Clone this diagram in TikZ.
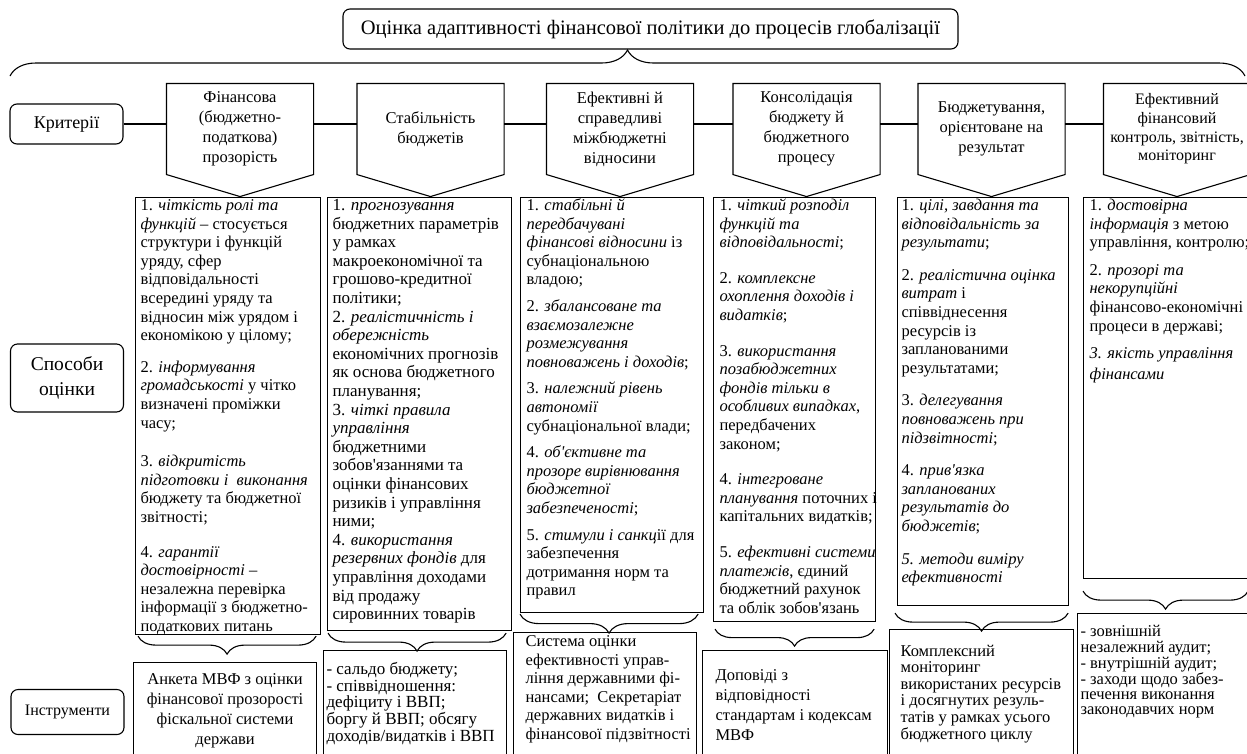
\documentclass[tikz,border=0pt]{standalone}
\usepackage{fontspec}
\setmainfont{Liberation Serif}
\usetikzlibrary{decorations.pathreplacing}

% box text: width, height, left inset, top pad, lines
\newcommand{\boxtext}[5]{\parbox[t][#2pt][t]{#1pt}{\vspace*{#4pt}\hspace*{#3pt}\begin{tabular}[t]{@{}l@{}}#5\end{tabular}}}
% centred box text: width, height, top pad, lines
\newcommand{\boxtextc}[4]{\parbox[t][#2pt][t]{#1pt}{\vspace*{#3pt}\centering\begin{tabular}[t]{@{}c@{}}#4\end{tabular}}}
\newcommand{\ap}{\textquotesingle}

\tikzset{
  every picture/.style={line width=1.1pt},
  lab/.style={draw, rounded corners=7pt, minimum width=113pt, align=center, inner sep=0pt},
  crit/.style={minimum width=146pt, minimum height=90pt, align=center, inner sep=0pt, font=\fontsize{16.5}{20}\selectfont},
  mbox/.style={draw, anchor=north west, inner sep=0pt, font=\fontsize{16.5}{18.6}\selectfont},
  tbox/.style={draw, anchor=north west, inner sep=0pt},
  brc/.style={decorate, decoration={brace, mirror, amplitude=#1}},
}

\begin{document}
\begin{tikzpicture}[x=1pt,y=-1pt]
		\useasboundingbox (0,0) rectangle (1247,753);
		\clip (0,0) rectangle (1247,753);

		% title and its brace
		\node[lab, minimum width=615pt, minimum height=40pt, font=\fontsize{20.5}{22}\selectfont] (title) at (650.5,29) {Оцінка адаптивності фінансової політики до процесів глобалізації};
		\coordinate (bl) at (10,76);
		\coordinate (br) at (1245,76);
		\draw[decorate, decoration={brace, amplitude=26pt}] (bl) -- (br);

		% row labels
		\node[lab, minimum height=40pt, font=\fontsize{18}{22}\selectfont] (krit) at (66.5,124) {Критерії};
		\node[lab, minimum height=68pt, font=\fontsize{19.5}{25}\selectfont] (sposoby) at (67,378) {Способи\\оцінки};
		\node[lab, minimum height=45pt, font=\fontsize{16}{19}\selectfont] (instr) at (67.5,712) {Інструменти};

		% criteria
		\node[crit] (c1) at (240,129) {Фінансова\\(бюджетно-\\податкова)\\прозорість};
		\node[crit] (c2) at (430.5,129) {Стабільність\\бюджетів};
		\node[crit] (c3) at (620,129) {Ефективні й\\справедливі\\міжбюджетні\\відносини};
		\node[crit] (c4) at (806.5,129) {Консолідація\\бюджету й\\бюджетного\\процесу};
		\node[crit] (c5) at (991.5,129) {Бюджетування,\\орієнтоване на\\результат};
		\node[crit, font=\fontsize{16}{18.7}\selectfont] (c6) at (1177,129) {Ефективний\\фінансовий\\контроль, звітність,\\моніторинг};
		\foreach \i in {1,...,6}
			\draw (c\i.north west) -- (c\i.north east) -- (c\i.south east) -- ([yshift=-22pt]c\i.south) -- (c\i.south west) -- cycle;

		% criteria row links
		\draw (krit.east) -- (krit.east -| c1.west);
		\foreach \i [evaluate=\i as \j using int(\i+1)] in {1,...,5}
			\draw (c\i.east |- krit.east) -- (c\j.west |- krit.east);

		% methods
		\node[mbox] (m1) at (135,197) {\boxtext{185}{437}{5}{0}{%
			1. \textit{чіткість ролі та}\\
			\textit{функцій} -- стосується\\
			структури і функцій\\
			уряду, сфер\\
			відповідальності\\
			всередині уряду та\\
			відносин між урядом і\\
			економікою у цілому;\\[13pt]
			2. \textit{інформування}\\
			\textit{громадськості} у чітко\\
			визначені проміжки\\
			часу;\\[20pt]
			3. \textit{відкритість}\\
			\textit{підготовки і~ виконання}\\
			бюджету та бюджетної\\
			звітності;\\[16pt]
			4. \textit{гарантії}\\
			\textit{достовірності} --\\
			незалежна перевірка\\
			інформації з бюджетно-\\
			податкових питань}};
		\node[mbox, font=\fontsize{17}{18.6}\selectfont] (m2) at (327,197) {\boxtext{184}{433}{5}{0}{%
			1. \textit{прогнозування}\\
			бюджетних параметрів\\
			у рамках\\
			макроекономічної та\\
			грошово-кредитної\\
			політики;\\
			2. \textit{реалістичність і}\\
			\textit{обережність}\\
			економічних прогнозів\\
			як основа бюджетного\\
			планування;\\
			3. \textit{чіткі правила}\\
			\textit{управління}\\
			бюджетними\\
			зобов\ap{}язаннями та\\
			оцінки фінансових\\
			ризиків і управління\\
			ними;\\
			4. \textit{використання}\\
			\textit{резервних фондів} для\\
			управління доходами\\
			від продажу\\
			сировинних товарів}};
		\node[mbox] (m3) at (520,197) {\boxtext{183}{415}{6}{0}{%
			1. \textit{стабільні й}\\
			\textit{передбачувані}\\
			\textit{фінансові відносини} із\\
			субнаціональною\\
			владою;\\[8pt]
			2. \textit{збалансоване та}\\
			\textit{взаємозалежне}\\
			\textit{розмежування}\\
			\textit{повноважень і доходів};\\[8pt]
			3. \textit{належний рівень}\\
			\textit{автономії}\\
			субнаціональної влади;\\[8pt]
			4. \textit{об\ap{}єктивне та}\\
			\textit{прозоре вирівнювання}\\
			\textit{бюджетної}\\
			\textit{забезпеченості};\\[8pt]
			5. \textit{стимули і санкц}ії для\\
			забезпечення\\
			дотримання норм та\\
			правил}};
		\node[mbox] (m4) at (713,197) {\boxtext{162}{424}{6}{0}{%
			1. \textit{чіткий розподіл}\\
			\textit{функцій та}\\
			\textit{відповідальності};\\[17pt]
			2. \textit{комплексне}\\
			\textit{охоплення доходів і}\\
			\textit{видатків};\\[17pt]
			3. \textit{використання}\\
			\textit{позабюджетних}\\
			\textit{фондів тільки в}\\
			\textit{особливих випадках},\\
			передбачених\\
			законом;\\[17pt]
			4. \textit{інтегроване}\\
			\textit{планування} поточних і\\
			капітальних видатків;\\[17pt]
			5. \textit{ефективні системи}\\
			\textit{платежів}, єдиний\\
			бюджетний рахунок\\
			та облік зобов\ap{}язань}};
		\node[mbox] (m5) at (897,197) {\boxtext{171}{408}{4}{0}{%
			1. \textit{цілі, завдання та}\\
			\textit{відповідальність за}\\
			\textit{результати};\\[14pt]
			2. \textit{реалістична оцінка}\\
			\textit{витрат} і\\
			співвіднесення\\
			ресурсів із\\
			запланованими\\
			результатами;\\[14pt]
			3. \textit{делегування}\\
			\textit{повноважень при}\\
			\textit{підзвітності};\\[14pt]
			4. \textit{прив\ap{}язка}\\
			\textit{запланованих}\\
			\textit{результатів до}\\
			\textit{бюджетів};\\[14pt]
			\textit{5. методи виміру}\\
			\textit{ефективності}}};
		\node[mbox] (m6) at (1083,197) {\boxtext{167}{381}{6}{0}{%
			1. \textit{достовірна}\\
			\textit{інформація} з метою\\
			управління, контролю;\\[9pt]
			2. \textit{прозорі та}\\
			\textit{некорупційні}\\
			фінансово-економічні\\
			процеси в державі;\\[9pt]
			\textit{3. якість управління}\\[2pt]
			\textit{фінансами}}};

		% tools
		\node[tbox, font=\fontsize{16.5}{20}\selectfont] (t1) at (133,662) {\boxtextc{183}{98}{8}{%
			Анкета МВФ з оцінки\\
			фінансової прозорості\\
			фіскальної системи\\
			держави}};
		\node[tbox, font=\fontsize{17}{16.3}\selectfont] (t2) at (323,650) {\boxtext{183}{110}{3}{12}{%
			- сальдо бюджету;\\
			- співвідношення:\\
			дефіциту і ВВП;\\
			боргу й ВВП; обсягу\\
			доходів/видатків і ВВП}};
		\node[tbox, font=\fontsize{16.5}{18.5}\selectfont] (t3) at (513,632) {\boxtext{183}{128}{12}{1}{%
			Система оцінки\\
			ефективності управ-\\
			ління державними фі-\\
			нансами;~ Секретаріат\\
			державних видатків і\\
			фінансової підзвітності}};
		\node[tbox, font=\fontsize{16.5}{20}\selectfont] (t4) at (702,650) {\boxtext{185}{110}{13}{16}{%
			Доповіді з\\
			відповідності\\
			стандартам і кодексам\\
			МВФ}};
		\node[tbox, font=\fontsize{16.5}{16.6}\selectfont] (t5) at (889,629) {\boxtext{184}{131}{11}{15}{%
			Комплексний\\
			моніторинг\\
			використаних ресурсів\\
			і досягнутих резуль-\\
			татів у рамках усього\\
			бюджетного циклу}};
		\node[tbox, font=\fontsize{16.5}{15}\selectfont] (t6) at (1077,613) {\boxtext{173}{147}{3}{12}{%
			- зовнішній\\
			незалежний аудит;\\
			- внутрішній аудит;\\
			- заходи щодо забез-\\
			печення виконання\\
			законодавчих норм}};

		% braces from methods to tools
		\draw[brc=18pt] ([xshift=3pt,yshift=-1pt]m1.south west) -- ([xshift=-5pt,yshift=-1pt]m1.south east);
		\draw[brc=18pt] ([xshift=1pt,yshift=-2pt]m2.south west) -- ([xshift=-6pt,yshift=-2pt]m2.south east);
		\draw[brc=19pt] ([xshift=0pt,yshift=-1pt]m3.south west) -- ([xshift=-6pt,yshift=-1pt]m3.south east);
		\draw[brc=17pt] ([xshift=2pt,yshift=-7pt]m4.south west) -- ([xshift=-2pt,yshift=-7pt]m4.south east);
		\draw[brc=18pt] ([xshift=-2pt,yshift=-7pt]m5.south west) -- ([xshift=-1pt,yshift=-7pt]m5.south east);
		\draw[brc=18pt] ([xshift=0pt,yshift=-12pt]m6.south west) -- ([xshift=-3pt,yshift=-12pt]m6.south east);

	\end{tikzpicture}
\end{document}
